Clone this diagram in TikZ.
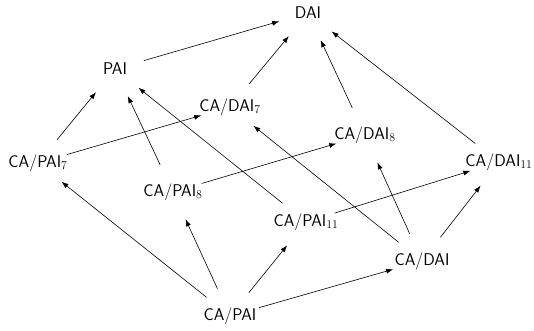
\documentclass[tikz,border=0pt]{standalone}
\usepackage{fontspec}
\usetikzlibrary{arrows.meta}
\newcommand{\sbs}[1]{{\rmfamily\textsubscript{#1}}}
\begin{document}
\begin{tikzpicture}[x=1pt,y=-1pt,
  lbl/.style={inner sep=0pt,font=\fontsize{17}{20}\selectfont\sffamily},
  arr/.style={-{Latex[length=7pt,width=5pt]},line width=0.6pt,shorten <=30pt,shorten >=30pt}]
\useasboundingbox (0,0) rectangle (534,331);
\node[lbl] (dai)    at (308,13)  {DAI};
\node[lbl] (pai)    at (115,69)  {PAI};
\node[lbl] (cdai7)  at (230,107) {CA/DAI\sbs{7}};
\node[lbl] (cdai8)  at (365,135) {CA/DAI\sbs{8}};
\node[lbl] (cpai7)  at (38,163)  {CA/PAI\sbs{7}};
\node[lbl] (cdai11) at (499,162) {CA/DAI\sbs{11}};
\node[lbl] (cpai8)  at (173,192) {CA/PAI\sbs{8}};
\node[lbl] (cpai11) at (306,222) {CA/PAI\sbs{11}};
\node[lbl] (cdai)   at (422,261) {CA/DAI};
\node[lbl] (cpai)   at (230,316) {CA/PAI};
\draw[arr] (pai.center) -- (dai.center);
\draw[arr] (cdai7.center) -- (dai.center);
\draw[arr] (cdai8.center) -- (dai.center);
\draw[arr] (cdai11.center) -- (dai.center);
\draw[arr] (cpai7.center) -- (pai.center);
\draw[arr] (cpai8.center) -- (pai.center);
\draw[arr] (cpai11.center) -- (pai.center);
\draw[arr] (cpai7.center) -- (cdai7.center);
\draw[arr] (cpai8.center) -- (cdai8.center);
\draw[arr] (cpai11.center) -- (cdai11.center);
\draw[arr] (cdai.center) -- (cdai7.center);
\draw[arr] (cdai.center) -- (cdai8.center);
\draw[arr] (cdai.center) -- (cdai11.center);
\draw[arr] (cpai.center) -- (cpai7.center);
\draw[arr] (cpai.center) -- (cpai8.center);
\draw[arr] (cpai.center) -- (cpai11.center);
\draw[arr] (cpai.center) -- (cdai.center);
\end{tikzpicture}
\end{document}
